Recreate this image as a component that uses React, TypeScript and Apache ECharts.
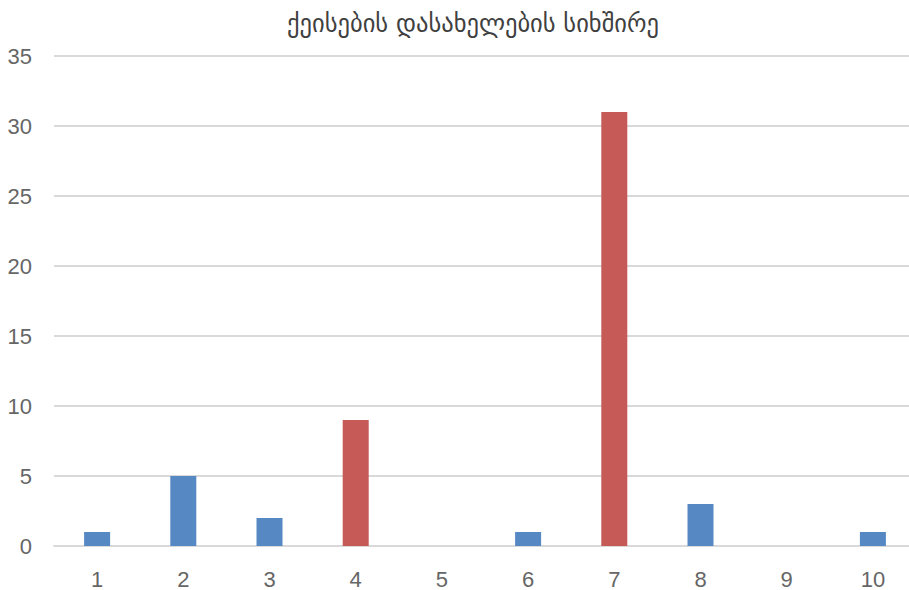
import React, { useEffect, useRef } from "react";
import * as echarts from "echarts";

const categories = ["1", "2", "3", "4", "5", "6", "7", "8", "9", "10"];
const values = [1, 5, 2, 9, 0, 1, 31, 3, 0, 1];
const highlighted = ["4", "7"];
const titleText = "ქეისების დასახელების სიხშირე";

const BLUE = "#5689C4";
const RED = "#C55A57";

export default function App() {
  const ref = useRef<HTMLDivElement>(null);
  useEffect(() => {
    document.body.style.margin = "0";
    document.body.style.overflow = "hidden";
    const chart = echarts.init(ref.current!, null, { renderer: "svg" });
    chart.setOption({
      animation: false,
      backgroundColor: "#ffffff",
      title: {
        text: titleText,
        left: 468,
        top: 6,
        textAlign: "center",
        textStyle: {
          fontFamily: "DejaVu Sans",
          fontSize: 24.5,
          fontWeight: "normal",
          color: "#404040",
        },
      },
      grid: { left: 54, right: 4, top: 56, bottom: 43, containLabel: false },
      xAxis: {
        type: "category",
        data: categories,
        axisLine: { show: true, lineStyle: { color: "#d9d9d9", width: 2 } },
        axisTick: { show: false },
        axisLabel: {
          color: "#666666",
          fontSize: 22,
          fontFamily: "Liberation Sans",
          margin: 22,
        },
      },
      yAxis: {
        type: "value",
        min: 0,
        max: 35,
        interval: 5,
        axisLine: { show: false },
        axisTick: { show: false },
        splitLine: { lineStyle: { color: "#d9d9d9", width: 2 } },
        axisLabel: {
          color: "#666666",
          fontSize: 22,
          fontFamily: "Liberation Sans",
          margin: 22,
        },
      },
      series: [
        {
          type: "bar",
          barWidth: 26,
          data: values.map((v, i) => ({
            value: v,
            itemStyle: {
              color: highlighted.includes(categories[i]) ? RED : BLUE,
            },
          })),
        },
      ],
    });
    return () => chart.dispose();
  }, []);
  return <div ref={ref} style={{ width: 920, height: 590 }} />;
}
